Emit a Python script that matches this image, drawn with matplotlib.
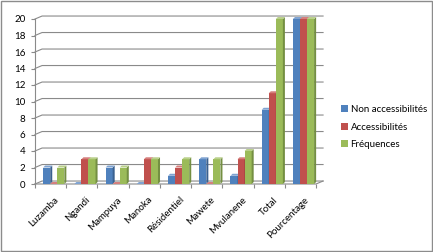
import matplotlib
matplotlib.use("Agg")
import matplotlib.pyplot as plt
from matplotlib.patches import Polygon, Rectangle
import numpy as np

categories = ["Luzamba", "Ngandi", "Mampuya", "Manoka", "Résidentiel", "Mawete",
              "Mvulanene", "Total", "Pourcentage"]
non_access = [2, 0, 2, 0, 1, 3, 1, 9, 20]
access = [0, 3, 0, 3, 2, 0, 3, 11, 20]
frequences = [2, 3, 2, 3, 3, 3, 4, 20, 20]
series_names = ["Non accessibilités", "Accessibilités", "Fréquences"]
yticks = list(range(0, 21, 2))

front = ["#4F81BD", "#C0504D", "#9BBB59"]
side = ["#3A6190", "#923B39", "#748F42"]
top = ["#7FA3D1", "#D57E7C", "#B9D08A"]

plt.rcParams['font.family'] = ['Lato', 'DejaVu Sans']

fig = plt.figure(figsize=(4.33, 2.52), dpi=100)
fig.patch.set_facecolor("white")
fig.patches.append(Rectangle((0.002, 0.002), 0.996, 0.994, transform=fig.transFigure,
                             fill=False, edgecolor="#8c8c8c", linewidth=1.0))
ax = fig.add_axes([35/433, 1-184/252, 281/433, 165/252])
ax.set_xlim(-0.5, 8.5)
ax.set_ylim(0, 20)
for s in ax.spines.values():
    s.set_visible(False)

gdx, gdy = 0.226, 0.36
grid_c = "#8a8a8a"
for yv in yticks:
    ax.plot([-0.5, -0.5 + gdx, 8.5 + gdx], [yv, yv + gdy, yv + gdy],
            color=grid_c, lw=0.8, clip_on=False, zorder=1)
# floor front line and right diagonal
ax.plot([-0.5, 8.5, 8.5 + gdx], [0, 0, gdy], color=grid_c, lw=0.8, clip_on=False, zorder=1)
# y axis line
ax.plot([-0.5, -0.5], [0, 20], color=grid_c, lw=0.8, clip_on=False, zorder=1)

bw = 0.226
bdx, bdy = 0.065, 0.24
shift = 0.1
data = [non_access, access, frequences]
for si, vals in enumerate(data):
    for ci, v in enumerate(vals):
        x0 = ci + shift + (si - 1.5) * bw
        x1 = x0 + bw
        z = 3 + ci * 0.01 + si * 0.001
        ax.bar(x0, v, width=bw, align='edge', color=front[si], edgecolor='none',
               zorder=z, clip_on=False)
        ax.add_patch(Polygon([(x1, 0), (x1 + bdx, bdy), (x1 + bdx, v + bdy), (x1, v)],
                             closed=True, facecolor=side[si], edgecolor='none',
                             zorder=z, clip_on=False))
        ax.add_patch(Polygon([(x0, v), (x0 + bdx, v + bdy), (x1 + bdx, v + bdy), (x1, v)],
                             closed=True, facecolor=top[si], edgecolor='none',
                             zorder=z, clip_on=False))

ax.set_yticks(yticks)
ax.set_yticklabels([str(t) for t in yticks], fontsize=7)
ax.tick_params(axis='y', length=3, color=grid_c, pad=4)
ax.set_xticks(np.arange(-0.5, 9.0, 1.0), minor=False)
ax.set_xticklabels([])
ax.tick_params(axis='x', which='major', length=3, color=grid_c, direction='out')
ax.set_xticks(np.arange(len(categories)) + 0.12, minor=True)
ax.set_xticklabels(categories, minor=True, rotation=45, ha='right',
                   rotation_mode='anchor', fontsize=7)
ax.tick_params(axis='x', which='minor', length=0, pad=8)

handles = [Rectangle((0, 0), 1, 1, facecolor=front[i], edgecolor='none') for i in range(3)]
fig.legend(handles, series_names, loc='center left', bbox_to_anchor=(337/433, 1-127/252),
           frameon=False, fontsize=7, handlelength=0.7, handleheight=0.7,
           handletextpad=0.3, labelspacing=0.9, borderaxespad=0)

fig.savefig("out.png", dpi=100)
